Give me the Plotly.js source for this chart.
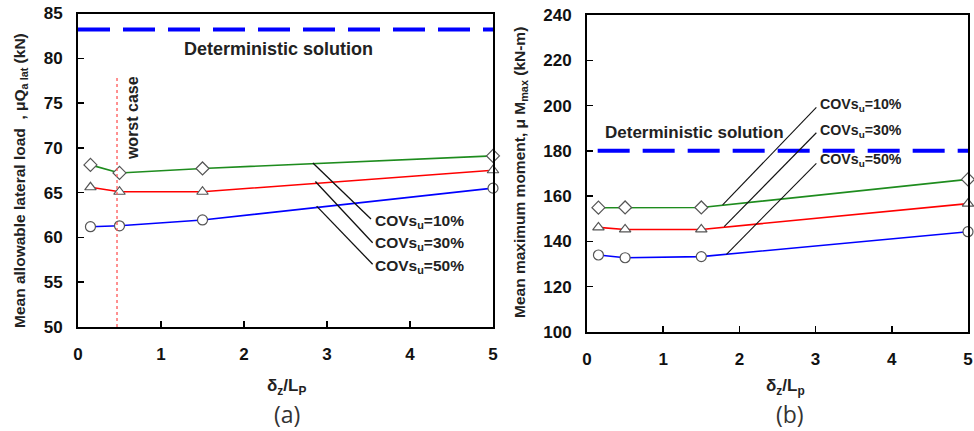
<!DOCTYPE html>
<html>
<head>
<meta charset="utf-8">
<script src="https://cdn.plot.ly/plotly-3.0.1.min.js"></script>
<style>html,body{margin:0;padding:0;background:#fff;}#chart{width:974px;height:431px;}</style>
</head>
<body>
<div id="chart"></div>
<script>
// ---- data ----
const ratio = [0.15, 0.5, 1.5, 5];               // δz/Lp
const loadCov10 = [68.1, 67.2, 67.7, 69.1];       // kN
const loadCov30 = [65.6, 65.1, 65.1, 67.5];
const loadCov50 = [61.2, 61.3, 61.95, 65.5];
const momCov10 = [154.9, 155.0, 155.0, 167.4];    // kN-m
const momCov30 = [146.2, 145.3, 145.3, 156.7];
const momCov50 = [134.0, 132.8, 133.3, 144.3];
const loadDeterministic = 83.2;
const momDeterministic = 180;
const worstCaseRatio = 0.47;
const seriesNames = ['COVs<sub>u</sub>=10%', 'COVs<sub>u</sub>=30%', 'COVs<sub>u</sub>=50%'];
const xTicks = [0, 1, 2, 3, 4, 5];
const loadTicks = [50, 55, 60, 65, 70, 75, 80, 85];
const momTicks = [100, 120, 140, 160, 180, 200, 220, 240];

// ---- styles ----
const colors = ['#1e8c1e', '#ff0000', '#0000ff'];
const symbols = ['diamond', 'triangle-up', 'circle'];
const W = 974, H = 431;
const px = v => v / W, py = v => 1 - v / H;

function series(x, y, i, xa, ya) {
  return {
    x: x, y: y, type: 'scatter', mode: 'lines+markers', name: seriesNames[i],
    xaxis: xa, yaxis: ya, cliponaxis: false, showlegend: false,
    line: {color: colors[i], width: 1.6},
    marker: {symbol: symbols[i], size: 10, color: '#ffffff',
             line: {color: '#555555', width: 1.2}}
  };
}

const traces = [
  series(ratio, loadCov10, 0, 'x', 'y'),
  series(ratio, loadCov30, 1, 'x', 'y'),
  series(ratio, loadCov50, 2, 'x', 'y'),
  series(ratio, momCov10, 0, 'x2', 'y2'),
  series(ratio, momCov30, 1, 'x2', 'y2'),
  series(ratio, momCov50, 2, 'x2', 'y2')
];

const tickFont = {family: 'Liberation Sans, Arial, sans-serif', size: 17, color: '#111', weight: 'bold'};
function xAxis(domain, anchor) {
  return {domain: domain, anchor: anchor, range: [0, 5], tickvals: xTicks, ticks: 'inside', ticklen: 6,
          tickwidth: 1.5, tickcolor: '#000', showline: true, mirror: true, linewidth: 2, linecolor: '#000',
          showgrid: false, zeroline: false, tickfont: tickFont, ticklabelstandoff: 11};
}
function yAxis(domain, anchor, range, ticks) {
  return {domain: domain, anchor: anchor, range: range, tickvals: ticks, ticks: 'inside', ticklen: 6,
          tickwidth: 1.5, tickcolor: '#000', showline: true, mirror: true, linewidth: 2, linecolor: '#000',
          showgrid: false, zeroline: false, tickfont: tickFont, ticklabelstandoff: 10};
}

const leaderL = [[2.83, 68.3, 3.53, 62.05], [2.86, 66.25, 3.55, 59.4], [2.875, 63.5, 3.55, 57.0]];
const labelL = [[3.56, 61.8], [3.56, 59.3], [3.56, 56.8]];
const leaderR = [[1.78, 156.1, 3.01, 199.2], [1.80, 146.5, 3.01, 188.0], [1.83, 134.3, 3.01, 174.5]];
const labelR = [[3.03, 200.2], [3.03, 188.9], [3.03, 176.0]];

const shapes = [
  {type: 'line', xref: 'x', yref: 'y', x0: 0, x1: 5, y0: loadDeterministic, y1: loadDeterministic,
   line: {color: '#0000ff', width: 4, dash: '32px,13px'}},
  {type: 'line', xref: 'x2', yref: 'y2', x0: 0.14, x1: 5, y0: momDeterministic, y1: momDeterministic,
   line: {color: '#0000ff', width: 4, dash: '32px,13px'}},
  {type: 'line', xref: 'x', yref: 'y', x0: worstCaseRatio, x1: worstCaseRatio, y0: 50, y1: 78,
   line: {color: '#ff5555', width: 1.3, dash: 'dot'}}
];
leaderL.forEach(l => shapes.push({type: 'line', xref: 'x', yref: 'y', x0: l[0], y0: l[1], x1: l[2], y1: l[3],
  line: {color: '#111', width: 1.3}}));
leaderR.forEach(l => shapes.push({type: 'line', xref: 'x2', yref: 'y2', x0: l[0], y0: l[1], x1: l[2], y1: l[3],
  line: {color: '#111', width: 1.1}}));

const bold = (s) => ({family: 'Liberation Sans, Arial, sans-serif', size: s, color: '#222', weight: 'bold'});
const C = {xanchor: 'center', yanchor: 'middle', showarrow: false};
const annotations = [
  Object.assign({xref: 'x', yref: 'y', x: 2.41, y: 81.04, text: 'Deterministic solution', font: bold(18)}, C),
  Object.assign({xref: 'x2', yref: 'y2', x: 1.41, y: 188, text: 'Deterministic solution', font: bold(17)}, C),
  Object.assign({xref: 'x', yref: 'y', x: 0.66, y: 73.3, text: 'worst case', textangle: -90, font: bold(16)}, C),
  Object.assign({xref: 'paper', yref: 'paper', x: px(20), y: py(181), text: 'Mean allowable lateral load  , μQ<sub>a lat</sub> (kN)',
   textangle: -90, font: bold(15.5)}, C),
  Object.assign({xref: 'paper', yref: 'paper', x: px(520), y: py(173), text: 'Mean maximum moment, μ M<sub>max</sub> (kN-m)',
   textangle: -90, font: bold(15.5)}, C),
  Object.assign({xref: 'paper', yref: 'paper', x: px(286), y: py(387), text: 'δ<sub>z</sub>/L<sub>P</sub>', font: bold(17)}, C),
  Object.assign({xref: 'paper', yref: 'paper', x: px(785), y: py(387), text: 'δ<sub>z</sub>/L<sub>p</sub>', font: bold(17)}, C),
  Object.assign({xref: 'paper', yref: 'paper', x: px(287), y: py(414), text: '(a)',
   font: {family: 'Open Sans, DejaVu Sans, sans-serif', size: 23, color: '#333'}}, C),
  Object.assign({xref: 'paper', yref: 'paper', x: px(790), y: py(414), text: '(b)',
   font: {family: 'Open Sans, DejaVu Sans, sans-serif', size: 23, color: '#333'}}, C)
];
labelL.forEach((p, i) => annotations.push({xref: 'x', yref: 'y', x: p[0], y: p[1], text: seriesNames[i],
  xanchor: 'left', yanchor: 'middle', showarrow: false, font: bold(15.5)}));
labelR.forEach((p, i) => annotations.push({xref: 'x2', yref: 'y2', x: p[0], y: p[1], text: seriesNames[i],
  xanchor: 'left', yanchor: 'middle', showarrow: false, font: bold(14.2)}));

const layout = {
  width: W, height: H, margin: {l: 0, r: 0, t: 0, b: 0},
  paper_bgcolor: '#fff', plot_bgcolor: '#fff', showlegend: false,
  xaxis: xAxis([px(78), px(493)], 'y'),
  yaxis: yAxis([1 - 327 / H, 1 - 13.5 / H], 'x', [50, 85], loadTicks),
  xaxis2: xAxis([px(587), px(968)], 'y2'),
  yaxis2: yAxis([1 - 332 / H, 1 - 15 / H], 'x2', [100, 240], momTicks),
  shapes: shapes, annotations: annotations
};

Plotly.newPlot('chart', traces, layout, {displayModeBar: false, staticPlot: true});
</script>
</body>
</html>
